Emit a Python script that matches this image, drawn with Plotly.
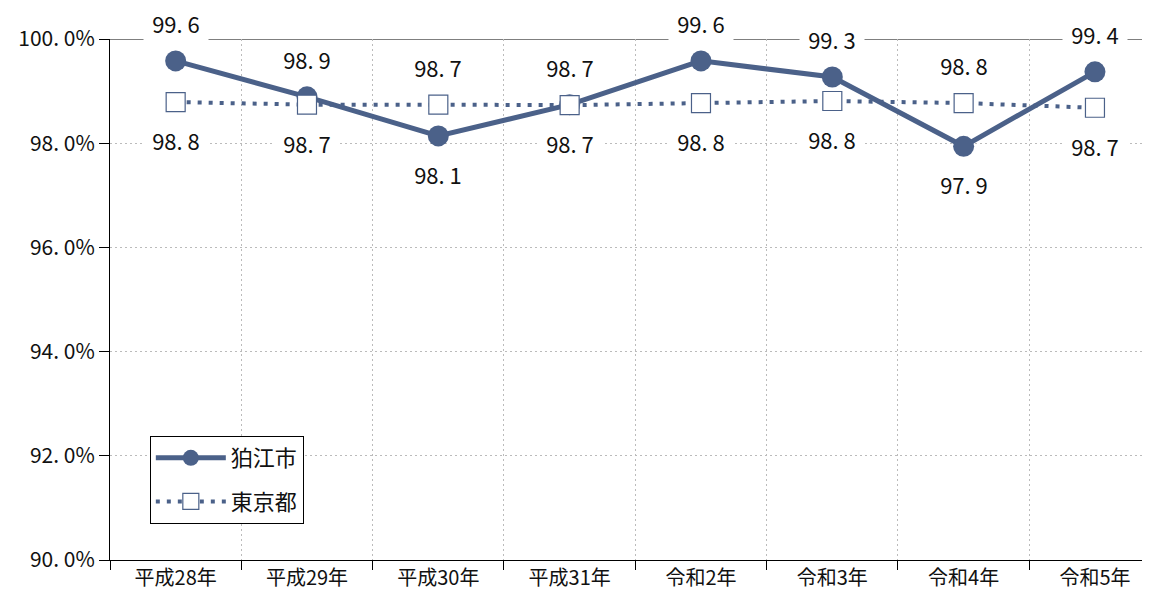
import plotly.graph_objects as go

categories = ["平成28年", "平成29年", "平成30年", "平成31年", "令和2年", "令和3年", "令和4年", "令和5年"]
komae = [99.58, 98.89, 98.14, 98.74, 99.58, 99.27, 97.94, 99.37]
tokyo = [98.79, 98.74, 98.74, 98.73, 98.77, 98.81, 98.77, 98.68]
komae_pos = ["top", "top", "bottom", "top", "top", "top", "bottom", "top"]
tokyo_pos = ["bottom", "bottom", "top", "bottom", "bottom", "bottom", "top", "bottom"]
y_ticks = [90, 92, 94, 96, 98, 100]
y_ticktext = ["90. 0%", "92. 0%", "94. 0%", "96. 0%", "98. 0%", "100. 0%"]

COLOR = "#4B6189"
FONT = "Noto Sans CJK JP"
x = list(range(len(categories)))

fig = go.Figure()
fig.add_trace(go.Scatter(
    x=x, y=komae, name="狛江市", mode="lines+markers", legendgroup="a",
    line=dict(color=COLOR, width=5),
    marker=dict(symbol="circle", size=21, color=COLOR),
))
fig.add_trace(go.Scatter(
    x=x, y=tokyo, name="東京都", mode="lines+markers", legendgroup="b",
    line=dict(color=COLOR, width=4, dash="4px,7px"),
    marker=dict(symbol="square", size=19, color="white", line=dict(color=COLOR, width=1.2)),
))

# top border line at 100%
fig.add_shape(type="line", xref="paper", yref="y", x0=0, x1=1, y0=100, y1=100,
              line=dict(color="black", width=1), layer="below")

for vals, pos in ((komae, komae_pos), (tokyo, tokyo_pos)):
    for i, (v, p) in enumerate(zip(vals, pos)):
        fig.add_annotation(
            x=i, y=v, text=f"{v:.1f}".replace(".", ". "), showarrow=False,
            yshift=38 if p == "top" else -38,
            font=dict(family=FONT, size=22, color="#111111"),
            bgcolor="white", borderpad=3, width=58, height=28,
        )

fig.update_layout(
    width=1150, height=602,
    margin=dict(l=102, r=0, t=31, b=50, autoexpand=False),
    plot_bgcolor="white", paper_bgcolor="white",
    font=dict(family=FONT, size=20, color="#111111"),
    showlegend=True,
    legend=dict(
        x=0.038, y=0.238, xanchor="left", yanchor="top",
        bordercolor="black", borderwidth=1, bgcolor="white",
        font=dict(family=FONT, size=22),
        itemwidth=70, tracegroupgap=12,
    ),
    xaxis=dict(
        range=[-0.5, 7.48], tickvals=x, ticktext=categories, automargin=False,
        showgrid=False, ticks="", showline=True, linecolor="black", linewidth=1,
        zeroline=False,
        tickfont=dict(family=FONT, size=20),
        minor=dict(tick0=0.5, dtick=1, showgrid=True, gridcolor="#BBBBBB",
                   griddash="2px,3px", gridwidth=1, ticks="outside", ticklen=9,
                   tickcolor="black"),
    ),
    yaxis=dict(
        range=[90, 100], tickvals=y_ticks, ticktext=y_ticktext, automargin=False,
        showgrid=True, gridcolor="#BBBBBB", griddash="2px,3px", gridwidth=1,
        ticks="outside", ticklen=10, tickcolor="black",
        showline=True, linecolor="black", linewidth=1, zeroline=False,
        tickfont=dict(family=FONT, size=21),
    ),
)

fig.write_html("out.html")
